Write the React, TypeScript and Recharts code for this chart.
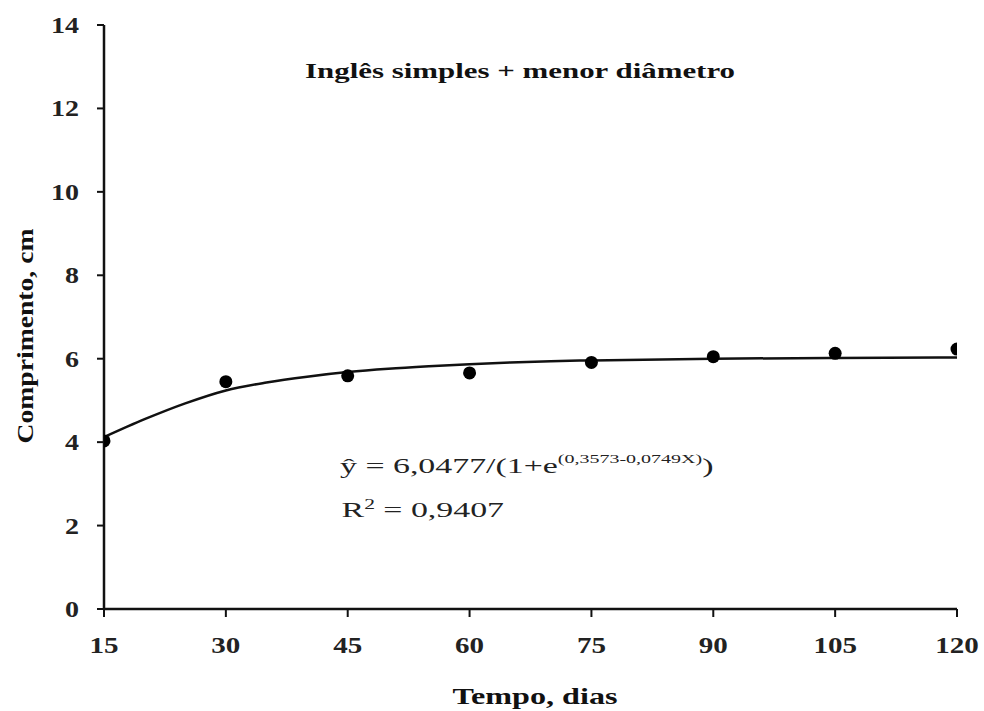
import React from 'react';
import { ComposedChart, Line, Scatter, XAxis, YAxis, Customized } from 'recharts';

// observed means (dias, cm)
const dias = [15, 30, 45, 60, 75, 90, 105, 120];
const comprimento = [4.03, 5.45, 5.59, 5.66, 5.91, 6.05, 6.13, 6.23];

// fitted curve
const curvaDias = [15, 20, 25, 30, 35, 40, 45, 50, 55, 60, 65, 70, 75, 90, 105, 120];
const curvaValores = [4.12, 4.55, 4.93, 5.24, 5.43, 5.57, 5.68, 5.76, 5.82, 5.87, 5.91, 5.94, 5.96, 6.0, 6.02, 6.03];

const xTicks = [15, 30, 45, 60, 75, 90, 105, 120];
const yTicks = [0, 2, 4, 6, 8, 10, 12, 14];

const FONT = '"Liberation Serif", "Times New Roman", serif';

const pontos = dias.map((d, i) => ({ x: d, y: comprimento[i] }));
const curva = curvaDias.map((d, i) => ({ x: d, y: curvaValores[i] }));

// the source image is stretched sideways, so labels get a fixed length per char
const XTick = (props: any) => {
  const { x, y, payload } = props;
  const s = String(payload.value);
  return (
    <text
      x={x}
      y={y + 20}
      textAnchor="middle"
      fontFamily={FONT}
      fontSize={24}
      fontWeight="bold"
      fill="#222"
      textLength={s.length * 14.5}
      lengthAdjust="spacingAndGlyphs"
    >
      {s}
    </text>
  );
};

const YTick = (props: any) => {
  const { x, y, payload } = props;
  const s = String(payload.value);
  return (
    <text
      x={x}
      y={y + 8}
      textAnchor="end"
      fontFamily={FONT}
      fontSize={23}
      fontWeight="bold"
      fill="#222"
      textLength={s.length * 14}
      lengthAdjust="spacingAndGlyphs"
    >
      {s}
    </text>
  );
};

const Anotacoes = () => (
  <g fontFamily={FONT}>
    <text
      x={520}
      y={78}
      textAnchor="middle"
      fontSize={21}
      fontWeight="bold"
      fill="#111"
      textLength={430}
      lengthAdjust="spacingAndGlyphs"
    >
      Inglês simples + menor diâmetro
    </text>
    <g transform="translate(340,0) scale(1.54,1)">
      <text x={0} y={473} fontSize={22} fill="#222">
        <tspan>ŷ</tspan>
        <tspan> = 6,0477/(1+e</tspan>
        <tspan fontSize={13} dy={-10}>(0,3573-0,0749X)</tspan>
        <tspan dy={10}>)</tspan>
      </text>
      <text x={1} y={517} fontSize={22} fill="#222">
        <tspan>R</tspan>
        <tspan fontSize={14} dy={-8}>2</tspan>
        <tspan dy={8}> = 0,9407</tspan>
      </text>
    </g>
    <text
      x={535}
      y={704}
      textAnchor="middle"
      fontSize={24}
      fontWeight="bold"
      fill="#111"
      textLength={165}
      lengthAdjust="spacingAndGlyphs"
    >
      Tempo, dias
    </text>
    <text
      x={33}
      y={336}
      textAnchor="middle"
      fontSize={23}
      fontWeight="bold"
      fill="#111"
      textLength={215}
      lengthAdjust="spacingAndGlyphs"
      transform="rotate(-90 33 336)"
    >
      Comprimento, cm
    </text>
  </g>
);

const App: React.FC = () => {
  return (
    <div style={{ position: 'absolute', left: 0, top: 0, background: '#fff' }}>
      <ComposedChart width={984} height={711} margin={{ top: 25, right: 27, bottom: 42, left: 44 }}>
        <XAxis
          type="number"
          dataKey="x"
          domain={[15, 120]}
          ticks={xTicks}
          allowDataOverflow
          height={60}
          tickSize={8}
          tickMargin={16}
          tick={<XTick />}
          axisLine={{ stroke: '#111', strokeWidth: 2.5 }}
          tickLine={{ stroke: '#111', strokeWidth: 2 }}
        />
        <YAxis
          type="number"
          dataKey="y"
          domain={[0, 14]}
          ticks={yTicks}
          width={60}
          tickSize={7}
          tickMargin={18}
          tick={<YTick />}
          axisLine={{ stroke: '#111', strokeWidth: 2.5 }}
          tickLine={{ stroke: '#111', strokeWidth: 2 }}
        />
        <Line
          data={curva}
          dataKey="y"
          type="monotone"
          stroke="#111"
          strokeWidth={2.5}
          dot={false}
          isAnimationActive={false}
        />
        <Scatter
          data={pontos}
          dataKey="y"
          fill="#000"
          shape={(p: any) => <circle cx={p.cx} cy={p.cy} r={6.5} fill="#000" />}
          isAnimationActive={false}
        />
        <Customized component={Anotacoes} />
      </ComposedChart>
    </div>
  );
};

export default App;
